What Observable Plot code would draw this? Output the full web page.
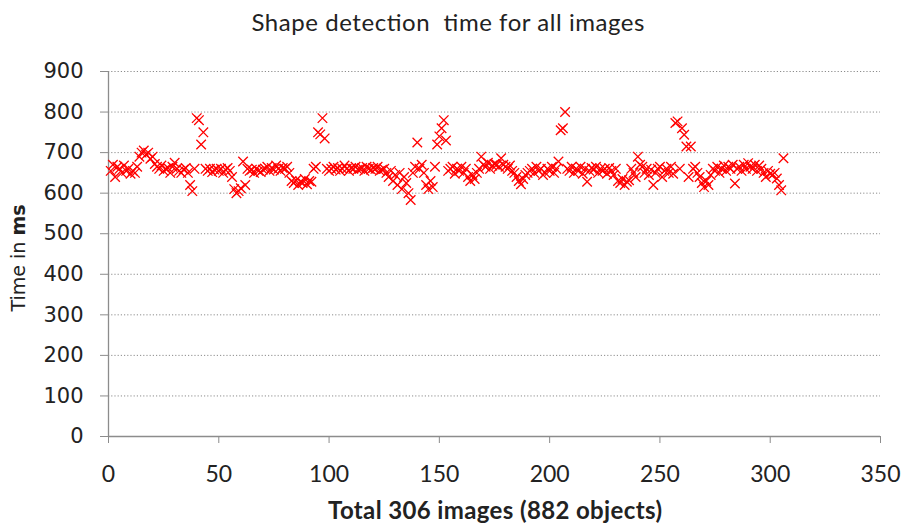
<!DOCTYPE html>
<html>
<head>
<meta charset="utf-8">
<script src="https://cdn.jsdelivr.net/npm/d3@7"></script>
<script src="https://cdn.jsdelivr.net/npm/@observablehq/plot@0.6"></script>
<style>
  html, body { margin: 0; padding: 0; background: #fff; }
  #wrap { position: relative; width: 906px; height: 527px; }
</style>
</head>
<body>
<div id="wrap"></div>
<script>
// Detection time (ms) for each of the 306 images, in order
const timesMs = [
  655, 670, 640, 665, 660, 650, 668, 655, 660, 648,
  655, 650, 665, 690, 700, 705, 695, 700, 685, 690,
  672, 665, 660, 668, 655, 660, 662, 650, 665, 675,
  660, 655, 650, 658, 662, 650, 620, 605, 660, 785,
  780, 720, 750, 660, 655, 660, 652, 658, 660, 655,
  660, 650, 658, 662, 655, 640, 610, 600, 605, 612,
  678, 620, 660, 655, 658, 650, 660, 655, 652, 658,
  660, 665, 655, 662, 658, 668, 660, 655, 662, 660,
  665, 650, 630, 625, 632, 620, 628, 625, 635, 622,
  630, 628, 660, 665, 750, 745, 785, 735, 660, 655,
  660, 665, 658, 662, 655, 660, 668, 660, 655, 662,
  660, 665, 658, 660, 662, 655, 665, 660, 658, 662,
  660, 665, 655, 658, 660, 650, 640, 655, 630, 645,
  620, 650, 610, 640, 625, 600, 583, 650, 665, 725,
  660, 670, 650, 620, 610, 630, 615, 665, 720, 740,
  760, 780, 730, 655, 660, 665, 648, 660, 655, 665,
  650, 660, 640, 630, 645, 635, 650, 660, 690, 670,
  665, 675, 660, 668, 672, 670, 665, 686, 670, 665,
  660, 668, 655, 650, 640, 630, 622, 635, 645, 650,
  655, 660, 650, 665, 655, 660, 645, 650, 660, 655,
  665, 650, 660, 678, 755, 760, 800, 660, 655, 665,
  650, 660, 655, 665, 648, 660, 628, 655, 662, 658,
  665, 650, 660, 655, 660, 648, 662, 655, 645, 660,
  630, 625, 635, 620, 628, 632, 660, 650, 640, 690,
  670, 665, 650, 660, 645, 658, 620, 650, 660, 665,
  640, 655, 660, 650, 665, 648, 773, 777, 660, 760,
  744, 715, 640, 715, 660, 665, 650, 640, 625, 615,
  630, 620, 645, 660, 655, 665, 650, 660, 668, 655,
  665, 660, 670, 624, 660, 665, 655, 670, 660, 674,
  665, 660, 670, 655, 668, 660, 650, 640, 655, 648,
  645, 650, 636, 620, 607, 686
];
const xTicks = [0, 50, 100, 150, 200, 250, 300, 350];
const yTicks = [0, 100, 200, 300, 400, 500, 600, 700, 800, 900];
const gridTicks = [100, 200, 300, 400, 500, 600, 700, 800, 900];
const titleText = "Shape detection  time for all images";
const xLabel = "Total 306 images (882 objects)";

const data = timesMs.map((t, i) => ({image: i + 1, time: t}));

const chart = Plot.plot({
  width: 906,
  height: 527,
  marginTop: 71,
  marginBottom: 91,
  marginLeft: 108,
  marginRight: 26,
  style: {background: "#fff", fontFamily: "Lato, sans-serif", fontSize: "16px"},
  x: {domain: [0, 350]},
  y: {domain: [0, 900]},
  marks: [
    Plot.gridY(gridTicks, {stroke: "#8c8c8c", strokeOpacity: 1, strokeDasharray: "1.2,2"}),
    Plot.ruleX([0], {stroke: "#8c8c8c", strokeWidth: 1.3}),
    Plot.ruleY([0], {stroke: "#8c8c8c", strokeWidth: 1.3}),
    Plot.axisY({ticks: yTicks, tickSize: 8, tickPadding: 17, stroke: "#8c8c8c", fill: "#222", label: null}),
    Plot.axisX({ticks: xTicks, tickSize: 7, tickPadding: 22, stroke: "#8c8c8c", fill: "#222", label: null}),
    Plot.dot(data, {x: "image", y: "time", symbol: "times", r: 4.4, stroke: "#ff0000", strokeWidth: 1.3})
  ]
});

document.getElementById("wrap").appendChild(chart);

const svg = d3.select(chart);
svg.selectAll('g[aria-label="y-axis tick label"]')
  .attr("font-family", "DejaVu Sans, Verdana, sans-serif")
  .attr("font-size", 21);
svg.selectAll('g[aria-label="x-axis tick label"]')
  .attr("font-family", "Lato, sans-serif")
  .attr("font-size", 23);

// Chart title
svg.append("text")
  .attr("x", 448).attr("y", 31)
  .attr("text-anchor", "middle")
  .attr("font-family", "Lato, sans-serif")
  .attr("font-size", 24)
  .attr("fill", "#222")
  .attr("textLength", 393)
  .attr("lengthAdjust", "spacing")
  .attr("xml:space", "preserve")
  .text(titleText);

// Y axis title with bold "ms"
const yt = svg.append("text")
  .attr("transform", "translate(25,258) rotate(-90)")
  .attr("text-anchor", "middle")
  .attr("font-family", "DejaVu Sans, Verdana, sans-serif")
  .attr("font-size", 19)
  .attr("fill", "#222");
yt.append("tspan").text("Time in ");
yt.append("tspan").attr("font-weight", "bold").text("ms");

// X axis title
svg.append("text")
  .attr("x", 495).attr("y", 519)
  .attr("text-anchor", "middle")
  .attr("font-family", "Lato, sans-serif")
  .attr("font-weight", "bold")
  .attr("font-size", 24)
  .attr("fill", "#222")
  .attr("textLength", 334)
  .attr("lengthAdjust", "spacing")
  .text(xLabel);
</script>
</body>
</html>
